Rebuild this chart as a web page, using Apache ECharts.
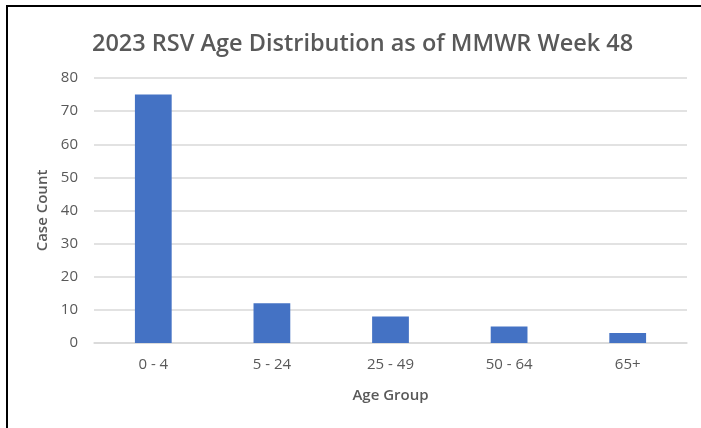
<!DOCTYPE html>
<html><head><meta charset="utf-8">
<script src="https://cdn.jsdelivr.net/npm/echarts@6/dist/echarts.min.js"></script>
<style>
html,body{margin:0;padding:0;background:#fff;}
#c{position:absolute;left:0;top:0;width:701px;height:428px;}
#b{position:absolute;left:6px;top:5px;width:695px;height:423px;border-left:2px solid #000;border-top:2px solid #000;pointer-events:none;}
</style></head>
<body><div id="c"></div><div id="b"></div>
<script>
const categories = ["0 - 4", "5 - 24", "25 - 49", "50 - 64", "65+"];
const caseCounts = [75, 12, 8, 5, 3];
const titleText = "2023 RSV Age Distribution as of MMWR Week 48";
const xName = "Age Group";
const yName = "Case Count";

const chart = echarts.init(document.getElementById('c'), null, {renderer: 'canvas'});
const font = '"Open Sans", "Noto Sans", sans-serif';
chart.setOption({
  animation: false,
  backgroundColor: '#fff',
  title: {
    text: titleText, left: 87, top: 27,
    textStyle: {fontFamily: font, fontSize: 23.5, fontWeight: 600, color: '#595959'}
  },
  grid: {left: 94, right: 14, top: 78, bottom: 85},
  xAxis: {
    type: 'category', data: categories,
    name: xName, nameLocation: 'middle', nameGap: 45,
    nameTextStyle: {fontFamily: font, fontSize: 15, fontWeight: 600, color: '#595959'},
    axisLine: {lineStyle: {color: '#d9d9d9', width: 1.5}},
    axisTick: {show: false},
    axisLabel: {fontFamily: font, fontSize: 15, color: '#595959', margin: 14}
  },
  yAxis: {
    type: 'value', min: 0, max: 80, interval: 10,
    name: yName, nameLocation: 'middle', nameGap: 42,
    nameTextStyle: {fontFamily: font, fontSize: 15, fontWeight: 600, color: '#595959'},
    axisLine: {show: false}, axisTick: {show: false},
    axisLabel: {fontFamily: font, fontSize: 15, color: '#595959', margin: 16},
    splitLine: {lineStyle: {color: '#d9d9d9', width: 1.5}}
  },
  series: [{
    type: 'bar', data: caseCounts, barWidth: '31%',
    itemStyle: {color: '#4472c4'}
  }]
});
</script></body></html>
